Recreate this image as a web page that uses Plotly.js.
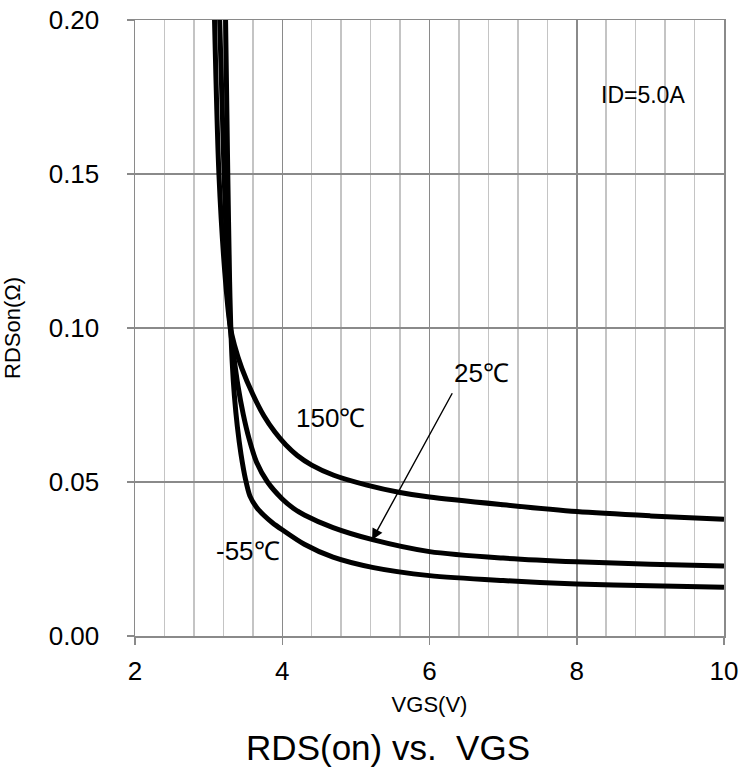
<!DOCTYPE html>
<html>
<head>
<meta charset="utf-8">
<script src="https://cdn.plot.ly/plotly-3.0.1.min.js"></script>
<style>html,body{margin:0;padding:0;background:#fff;}#chart{width:742px;height:771px;}</style>
</head>
<body>
<div id="chart"></div>
<script>
// VGS (V) and RDSon (ohm)
const vgs150 = [3.08, 3.14, 3.22, 3.29, 3.35, 3.45, 3.6, 3.75, 3.9, 4.05, 4.2, 4.4, 4.7, 5.15, 5.6, 6.0, 7.0, 8.0, 9.0, 10.0];
const rds150 = [0.200, 0.150, 0.118, 0.101, 0.0945, 0.0870, 0.0785, 0.0715, 0.0662, 0.0620, 0.0587, 0.0555, 0.0522, 0.0490, 0.0466, 0.0451, 0.0426, 0.0404, 0.0390, 0.0379];

const vgs25 = [3.15, 3.21, 3.26, 3.29, 3.33, 3.40, 3.47, 3.55, 3.65, 3.8, 4.0, 4.15, 4.3, 4.69, 5.24, 6.0, 7.0, 8.0, 9.0, 10.0];
const rds25 = [0.200, 0.150, 0.115, 0.101, 0.093, 0.081, 0.072, 0.064, 0.0565, 0.050, 0.0445, 0.0415, 0.0393, 0.0352, 0.0312, 0.0274, 0.0253, 0.0241, 0.0233, 0.0227];

const vgsM55 = [3.23, 3.26, 3.285, 3.30, 3.32, 3.35, 3.39, 3.44, 3.50, 3.56, 3.65, 3.75, 3.87, 4.0, 4.3, 4.69, 5.24, 6.0, 7.0, 8.0, 9.0, 10.0];
const rdsM55 = [0.200, 0.150, 0.115, 0.101, 0.089, 0.078, 0.068, 0.059, 0.051, 0.0455, 0.0418, 0.0392, 0.0367, 0.0345, 0.0298, 0.0256, 0.0222, 0.0196, 0.0180, 0.0169, 0.0163, 0.0158];

const xTicks = [2, 4, 6, 8, 10];
const yTicks = [0.00, 0.05, 0.10, 0.15, 0.20];

const labels = {
  id: 'ID=5.0A',
  t150: '150℃',
  t25: '25℃',
  tM55: '-55℃',
  xTitle: 'VGS(V)',
  yTitle: 'RDSon(Ω)',
  title: 'RDS(on) vs.  VGS'
};

const FONT = 'Liberation Sans, Arial, sans-serif';
const lineStyle = {color: '#000', width: 5, shape: 'spline', smoothing: 0.8};

const traces = [
  {x: vgs150, y: rds150, name: '150℃', mode: 'lines', line: lineStyle},
  {x: vgs25, y: rds25, name: '25℃', mode: 'lines', line: lineStyle},
  {x: vgsM55, y: rdsM55, name: '-55℃', mode: 'lines', line: lineStyle}
];

const layout = {
  width: 742, height: 771,
  margin: {l: 135, r: 18, t: 20, b: 135},
  paper_bgcolor: '#fff', plot_bgcolor: '#fff',
  showlegend: false,
  font: {family: FONT, color: '#000', size: 20},
  title: {
    text: labels.title,
    font: {family: FONT, size: 35, color: '#000'},
    x: 0.523, xref: 'container', xanchor: 'center',
    y: 0.030, yref: 'container', yanchor: 'middle'
  },
  xaxis: {
    range: [2, 10],
    tickvals: xTicks,
    ticktext: xTicks.map(String),
    ticks: 'outside', ticklen: 7, tickcolor: '#8a8a8a', tickwidth: 1.5,
    ticklabelstandoff: 4,
    showline: true, linecolor: '#8a8a8a', linewidth: 1.5, mirror: true,
    showgrid: true, gridcolor: '#8a8a8a', gridwidth: 1.5,
    minor: {dtick: 0.4, showgrid: true, gridcolor: '#c4c4c4', gridwidth: 1.5, ticks: ''},
    zeroline: false,
    tickfont: {family: FONT, size: 26, color: '#000'},
    title: {text: labels.xTitle, font: {family: FONT, size: 22, color: '#000'}, standoff: 12}
  },
  yaxis: {
    range: [0, 0.2],
    tickvals: yTicks,
    tickformat: '.2f',
    ticks: 'outside', ticklen: 7, tickcolor: '#8a8a8a', tickwidth: 1.5,
    ticklabelstandoff: 22,
    showline: true, linecolor: '#8a8a8a', linewidth: 1.5, mirror: true,
    showgrid: true, gridcolor: '#8a8a8a', gridwidth: 1.5,
    zeroline: false,
    tickfont: {family: FONT, size: 26, color: '#000'},
    title: {text: labels.yTitle, font: {family: FONT, size: 22, color: '#000'}, standoff: 22}
  },
  annotations: [
    {x: 8.90, y: 0.1756, xref: 'x', yref: 'y', text: labels.id, showarrow: false,
     font: {family: FONT, size: 23, color: '#000'}},
    {x: 4.65, y: 0.0708, xref: 'x', yref: 'y', text: labels.t150, showarrow: false,
     font: {family: FONT, size: 26, color: '#000'}},
    {x: 6.70, y: 0.0854, xref: 'x', yref: 'y', text: labels.t25, showarrow: false,
     font: {family: FONT, size: 26, color: '#000'}},
    {x: 3.54, y: 0.0276, xref: 'x', yref: 'y', text: labels.tM55, showarrow: false,
     font: {family: FONT, size: 26, color: '#000'}},
    {x: 5.22, y: 0.0312, xref: 'x', yref: 'y', ax: 6.32, ay: 0.0793, axref: 'x', ayref: 'y',
     text: '', showarrow: true, arrowhead: 2, arrowsize: 1.6, arrowwidth: 1.4, arrowcolor: '#000', standoff: 0}
  ]
};

Plotly.newPlot('chart', traces, layout, {displayModeBar: false, staticPlot: true});
</script>
</body>
</html>
